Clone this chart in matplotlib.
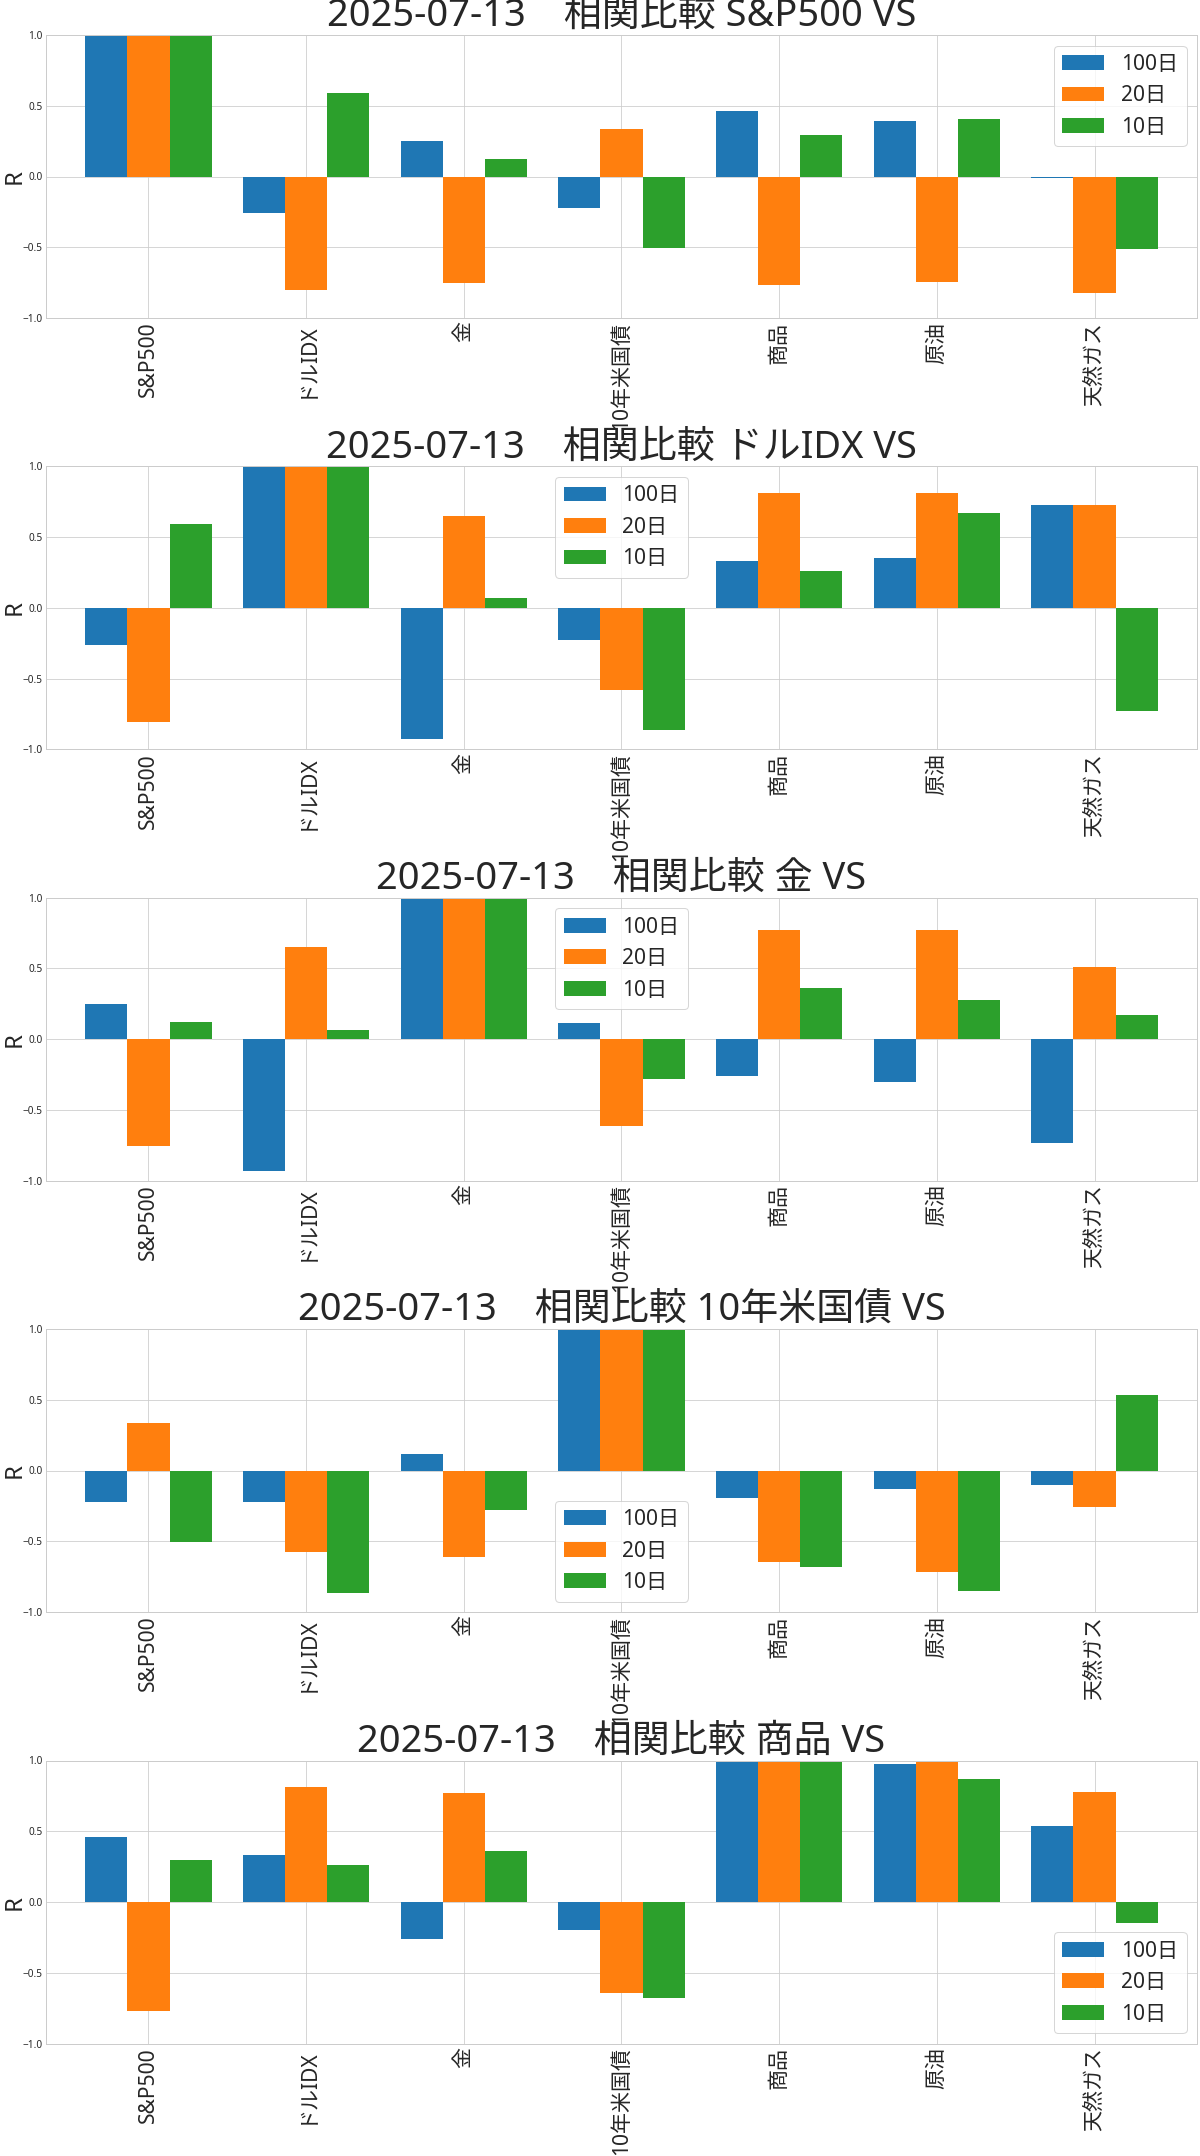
import matplotlib
matplotlib.use("Agg")
import matplotlib.pyplot as plt
import numpy as np

plt.style.use("seaborn-v0_8-whitegrid")
plt.rcParams["font.family"] = ["Noto Sans", "Noto Sans CJK JP", "DejaVu Sans"]

date_label = "2025-07-13"
targets = ["S&P500", "ドルIDX", "金", "10年米国債", "商品", "原油", "天然ガス"]
bases = ["S&P500", "ドルIDX", "金", "10年米国債", "商品"]
windows = ["100日", "20日", "10日"]

corr_100 = [
    [1.0, -0.26, 0.25, -0.22, 0.46, 0.39, -0.01],
    [-0.26, 1.0, -0.93, -0.225, 0.33, 0.35, 0.73],
    [0.25, -0.93, 1.0, 0.115, -0.26, -0.30, -0.735],
    [-0.22, -0.225, 0.115, 1.0, -0.195, -0.128, -0.106],
    [0.46, 0.33, -0.26, -0.195, 1.0, 0.974, 0.538],
]
corr_20 = [
    [1.0, -0.805, -0.755, 0.337, -0.77, -0.744, -0.82],
    [-0.805, 1.0, 0.65, -0.578, 0.811, 0.811, 0.73],
    [-0.755, 0.65, 1.0, -0.613, 0.769, 0.77, 0.512],
    [0.337, -0.578, -0.613, 1.0, -0.644, -0.716, -0.255],
    [-0.77, 0.811, 0.769, -0.644, 1.0, 0.986, 0.775],
]
corr_10 = [
    [1.0, 0.592, 0.122, -0.503, 0.296, 0.408, -0.512],
    [0.592, 1.0, 0.068, -0.864, 0.261, 0.671, -0.728],
    [0.122, 0.068, 1.0, -0.28, 0.36, 0.274, 0.172],
    [-0.503, -0.864, -0.28, 1.0, -0.68, -0.851, 0.532],
    [0.296, 0.261, 0.36, -0.68, 1.0, 0.87, -0.151],
]
legend_locs = ["upper right", "upper center", "upper center", "lower center", "lower right"]

colors = ["#1f77b4", "#ff7f0e", "#2ca02c"]

W, H = 1200, 2156
DPI = 72
fig = plt.figure(figsize=(W / DPI, H / DPI), dpi=DPI)

ax_left, ax_right = 46, 1197
ax_h = 283
tops = [35, 466.4, 897.7, 1329, 1760.5]

x = np.arange(len(targets))
bw = 0.8 / 3
series = [corr_100, corr_20, corr_10]

for i, base in enumerate(bases):
    top = tops[i]
    ax = fig.add_axes([ax_left / W, 1 - (top + ax_h) / H, (ax_right - ax_left) / W, ax_h / H])
    for k, (wname, data) in enumerate(zip(windows, series)):
        ax.bar(x + (k - 1) * bw, data[i], width=bw, color=colors[k], label=wname,
               edgecolor="none", linewidth=0)
    ax.set_xlim(-0.65, 6.65)
    ax.set_ylim(-1.0, 1.0)
    ax.set_yticks([-1.0, -0.5, 0.0, 0.5, 1.0])
    ax.set_xticks(x)
    ax.set_xticklabels(targets, rotation=90, fontsize=21)
    ax.tick_params(axis="y", labelsize=10)
    ax.tick_params(axis="x", pad=3.5)
    ax.set_ylabel("R", fontsize=24)
    ax.yaxis.set_label_coords(-0.0165, 0.5)
    ax.set_title(f"{date_label}\u3000相関比較 {base} VS", fontsize=38, pad=6)
    ax.set_axisbelow(True)
    ax.legend(loc=legend_locs[i], fontsize=21, frameon=True)

fig.savefig("out.png", dpi=DPI)
